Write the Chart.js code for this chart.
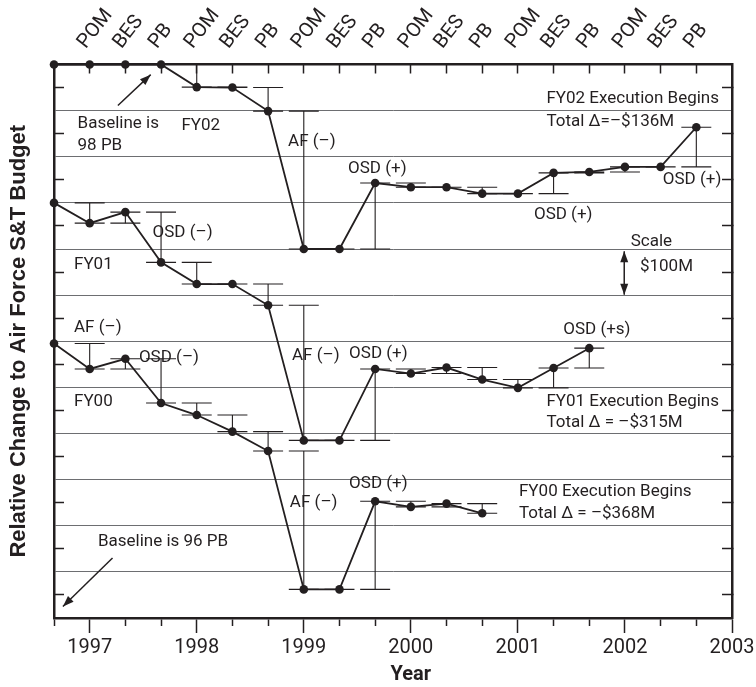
<!DOCTYPE html>
<html>
<head>
<meta charset="utf-8">
<style>
html,body{margin:0;padding:0;background:#ffffff;}
#wrap{width:756px;height:687px;}
</style>
<script src="https://cdn.jsdelivr.net/npm/chart.js@4.4.0/dist/chart.umd.min.js"></script>
</head>
<body>
<div id="wrap"><canvas id="c" width="756" height="687"></canvas></div>
<script>
// ---- data (x = budget-cycle step index: 0 = 1997 POM, one step = 1/3 year) ----
const cycleLabels = ['POM','BES','PB','POM','BES','PB','POM','BES','PB','POM','BES','PB','POM','BES','PB','POM','BES','PB'];
const yearLabels = ['1997','1998','1999','2000','2001','2002','2003'];
const seriesNames = ['FY02','FY01','FY00'];
// relative change ($M), first value sits at step -1
const fy02Values = [0,0,0,0,-49,-50,-101,-400,-400,-257,-266,-266,-280,-280,-235,-233,-222,-222,-136];
const fy01Values = [-300,-344,-320,-429,-476,-476,-522,-815,-815,-660,-670,-657,-683,-701,-658,-615];
const fy00Values = [-605,-660,-638,-734,-760,-796,-838,-1138,-1138,-947,-959,-952,-973];
const yMin = -1200, yMax = 0, yStep = 50, gridStep = 100;
const xMin = -1, xMax = 18;

// annotation texts placed in data coordinates (step, $M)
const notes = [
  {text:'Baseline is', k:-0.34, v:-128},
  {text:'98 PB', k:-0.34, v:-176},
  {text:'FY02', k:2.57, v:-132},
  {text:'AF (–)', k:5.56, v:-168},
  {text:'OSD (+)', k:7.24, v:-226},
  {text:'FY02 Execution Begins', k:12.8, v:-75},
  {text:'Total Δ=–$136M', k:12.8, v:-125},
  {text:'OSD (+)', k:16.06, v:-250},
  {text:'OSD (–)', k:1.76, v:-364},
  {text:'FY01', k:-0.44, v:-434},
  {text:'AF (–)', k:-0.44, v:-570},
  {text:'OSD (–)', k:1.38, v:-636},
  {text:'FY00', k:-0.44, v:-732},
  {text:'AF (–)', k:5.67, v:-631},
  {text:'OSD (+)', k:7.27, v:-628},
  {text:'OSD (+)', k:12.45, v:-326},
  {text:'Scale', k:15.16, v:-384},
  {text:'$100M', k:15.42, v:-438},
  {text:'OSD (+s)', k:13.27, v:-575},
  {text:'FY01 Execution Begins', k:12.8, v:-731},
  {text:'Total Δ = –$315M', k:12.8, v:-777},
  {text:'AF (–)', k:5.61, v:-951},
  {text:'OSD (+)', k:7.27, v:-908},
  {text:'Baseline is 96 PB', k:0.23, v:-1034},
  {text:'FY00 Execution Begins', k:12.03, v:-926},
  {text:'Total Δ = –$368M', k:12.03, v:-974}
];
const arrows = [
  {k1:0.79, v1:-89, k2:1.71, v2:-22, both:false},
  {k1:0.64, v1:-1070, k2:-0.75, v2:-1175, both:false},
  {k1:14.98, v1:-405, k2:14.98, v2:-499, both:true}
];

// ---- helpers ----
const INK = '#231f20';
const GRID = '#6d6e71';
const CAP_HALF = 0.42; // half cap width in steps
const range = (a, b, s) => { const r = []; for (let v = a; v <= b + 1e-9; v += s) r.push(v); return r; };
const yTicks = range(yMin, yMax, yStep);
const stepTicks = range(xMin, xMax, 1);
const cycleTicks = cycleLabels.map((_, i) => i);
const yearTicks = yearLabels.map((_, i) => i * 3);

function seriesPoints(vals){ return vals.map((v, i) => ({x: i - 1, y: v})); }
function stemPoints(vals){
  const d = [];
  for (let i = 1; i < vals.length; i++) {
    const k = i - 1;
    d.push({x:k, y:vals[i-1]}, {x:k, y:vals[i]}, {x:k, y:null});
  }
  return d;
}
function capPoints(vals){
  const d = [];
  for (let i = 1; i < vals.length; i++) {
    const k = i - 1;
    [vals[i-1], vals[i]].forEach(v => d.push({x:k-CAP_HALF, y:v}, {x:k+CAP_HALF, y:v}, {x:k, y:null}));
  }
  return d;
}

const allSeries = [fy02Values, fy01Values, fy00Values];
const datasets = [];
allSeries.forEach((vals, si) => {
  datasets.push({label: seriesNames[si] + ' change', data: stemPoints(vals), borderColor: INK, borderWidth: 1.1,
    pointRadius: 0, spanGaps: false, fill: false, order: 3, clip: false, xAxisID:'x', yAxisID:'y'});
  datasets.push({label: seriesNames[si] + ' caps', data: capPoints(vals), borderColor: INK, borderWidth: 1.1,
    pointRadius: 0, spanGaps: false, fill: false, order: 3, clip: false, xAxisID:'x', yAxisID:'y'});
  datasets.push({label: seriesNames[si], data: seriesPoints(vals), borderColor: INK, borderWidth: 1.8,
    pointRadius: 4.3, pointBackgroundColor: INK, pointBorderWidth: 0, tension: 0, fill: false,
    order: 1, clip: false, xAxisID:'x', yAxisID:'y'});
});

function zeroPad(s){ s.paddingLeft = 0; s.paddingRight = 0; s.paddingTop = 0; s.paddingBottom = 0; }

const notesPlugin = {
  id: 'notes',
  beforeDatasetsDraw(chart){
    const {ctx} = chart;
    const x = chart.scales.x, y = chart.scales.y;
    ctx.save();
    ctx.fillStyle = INK;
    ctx.font = '17px Roboto';
    ctx.textAlign = 'left';
    ctx.textBaseline = 'middle';
    notes.forEach(n => ctx.fillText(n.text, x.getPixelForValue(n.k), y.getPixelForValue(n.v)));
    // arrows
    ctx.strokeStyle = INK;
    ctx.lineWidth = 1.5;
    const head = (px, py, a) => {
      const L = 11, W = 8;
      ctx.beginPath();
      ctx.moveTo(px, py);
      ctx.lineTo(px - L*Math.cos(a) + W/2*Math.sin(a), py - L*Math.sin(a) - W/2*Math.cos(a));
      ctx.lineTo(px - L*Math.cos(a) - W/2*Math.sin(a), py - L*Math.sin(a) + W/2*Math.cos(a));
      ctx.closePath();
      ctx.fill();
    };
    arrows.forEach(a => {
      const x1 = x.getPixelForValue(a.k1), y1 = y.getPixelForValue(a.v1);
      const x2 = x.getPixelForValue(a.k2), y2 = y.getPixelForValue(a.v2);
      const ang = Math.atan2(y2 - y1, x2 - x1);
      ctx.beginPath(); ctx.moveTo(x1, y1); ctx.lineTo(x2, y2); ctx.stroke();
      head(x2, y2, ang);
      if (a.both) head(x1, y1, ang + Math.PI);
    });
    // x-axis title, centred under the 2000 tick
    const xy = chart.scales.xYear;
    ctx.font = 'bold 20px Roboto';
    ctx.textAlign = 'center';
    ctx.fillText('Year', xy.getPixelForValue(9), xy.bottom - 12);
    ctx.restore();
  }
};

new Chart(document.getElementById('c'), {
  type: 'line',
  data: {datasets},
  options: {
    responsive: false,
    animation: false,
    events: [],
    layout: {padding: 0},
    plugins: {legend: {display: false}, tooltip: {enabled: false}},
    scales: {
      x: {
        type: 'linear', position: 'bottom', weight: 0, min: xMin, max: xMax,
        afterBuildTicks: s => { s.ticks = stepTicks.map(v => ({value: v})); },
        ticks: {display: false},
        grid: {drawOnChartArea: false, drawTicks: true, tickLength: 8, tickColor: INK, tickWidth: 1.5},
        border: {display: true, color: INK, width: 2.5},
        afterFit: s => { s.height = 8; zeroPad(s); }
      },
      xYear: {
        type: 'linear', position: 'bottom', weight: 1, min: xMin, max: xMax,
        afterBuildTicks: s => { s.ticks = yearTicks.map(v => ({value: v})); },
        ticks: {callback: v => yearLabels[Math.round(v / 3)] ?? '', autoSkip: false, maxRotation: 0, minRotation: 0,
          font: {family: 'Roboto', size: 20}, color: INK, padding: 3},
        grid: {drawOnChartArea: false, drawTicks: true, tickLength: 7, tickColor: INK, tickWidth: 1.5},
        border: {display: false},
        afterFit: s => { s.height = 61; zeroPad(s); }
      },
      xTop: {
        type: 'linear', position: 'top', min: xMin, max: xMax,
        afterBuildTicks: s => { s.ticks = cycleTicks.map(v => ({value: v})); },
        ticks: {callback: v => cycleLabels[Math.round(v)] ?? '', autoSkip: false, minRotation: 52, maxRotation: 52,
          font: {family: 'Roboto', size: 20}, color: INK, padding: 20, labelOffset: 11},
        grid: {drawOnChartArea: false, drawTicks: true, tickLength: -9, tickColor: INK, tickWidth: 1.5},
        border: {display: true, color: INK, width: 2.5},
        afterFit: s => { s.height = 64.5; zeroPad(s); }
      },
      y: {
        type: 'linear', position: 'left', min: yMin, max: yMax,
        afterBuildTicks: s => { s.ticks = yTicks.map(v => ({value: v})); },
        ticks: {display: false},
        grid: {
          color: c => (c.tick && c.tick.value % gridStep === 0 && c.tick.value > yMin && c.tick.value < yMax) ? GRID : 'rgba(0,0,0,0)',
          lineWidth: 1, drawTicks: true, tickLength: -10, tickWidth: 1.5,
          tickColor: c => (c.tick && c.tick.value % gridStep !== 0) ? INK : 'rgba(0,0,0,0)'
        },
        border: {display: true, color: INK, width: 2.5},
        title: {display: true, text: 'Relative Change to Air Force S&T Budget', color: INK,
          font: {family: 'Liberation Sans', size: 22, weight: 'bold'}, padding: {top: 6, bottom: 0}},
        afterFit: s => { s.width = 54; zeroPad(s); }
      },
      yR: {
        type: 'linear', position: 'right', min: yMin, max: yMax,
        afterBuildTicks: s => { s.ticks = yTicks.map(v => ({value: v})); },
        ticks: {display: false},
        grid: {drawOnChartArea: false, drawTicks: true, tickLength: -10, tickWidth: 1.5,
          tickColor: c => (c.tick && c.tick.value % gridStep !== 0) ? INK : 'rgba(0,0,0,0)'},
        border: {display: true, color: INK, width: 2.5},
        afterFit: s => { s.width = 24; zeroPad(s); }
      }
    }
  },
  plugins: [notesPlugin]
});
</script>
</body>
</html>
